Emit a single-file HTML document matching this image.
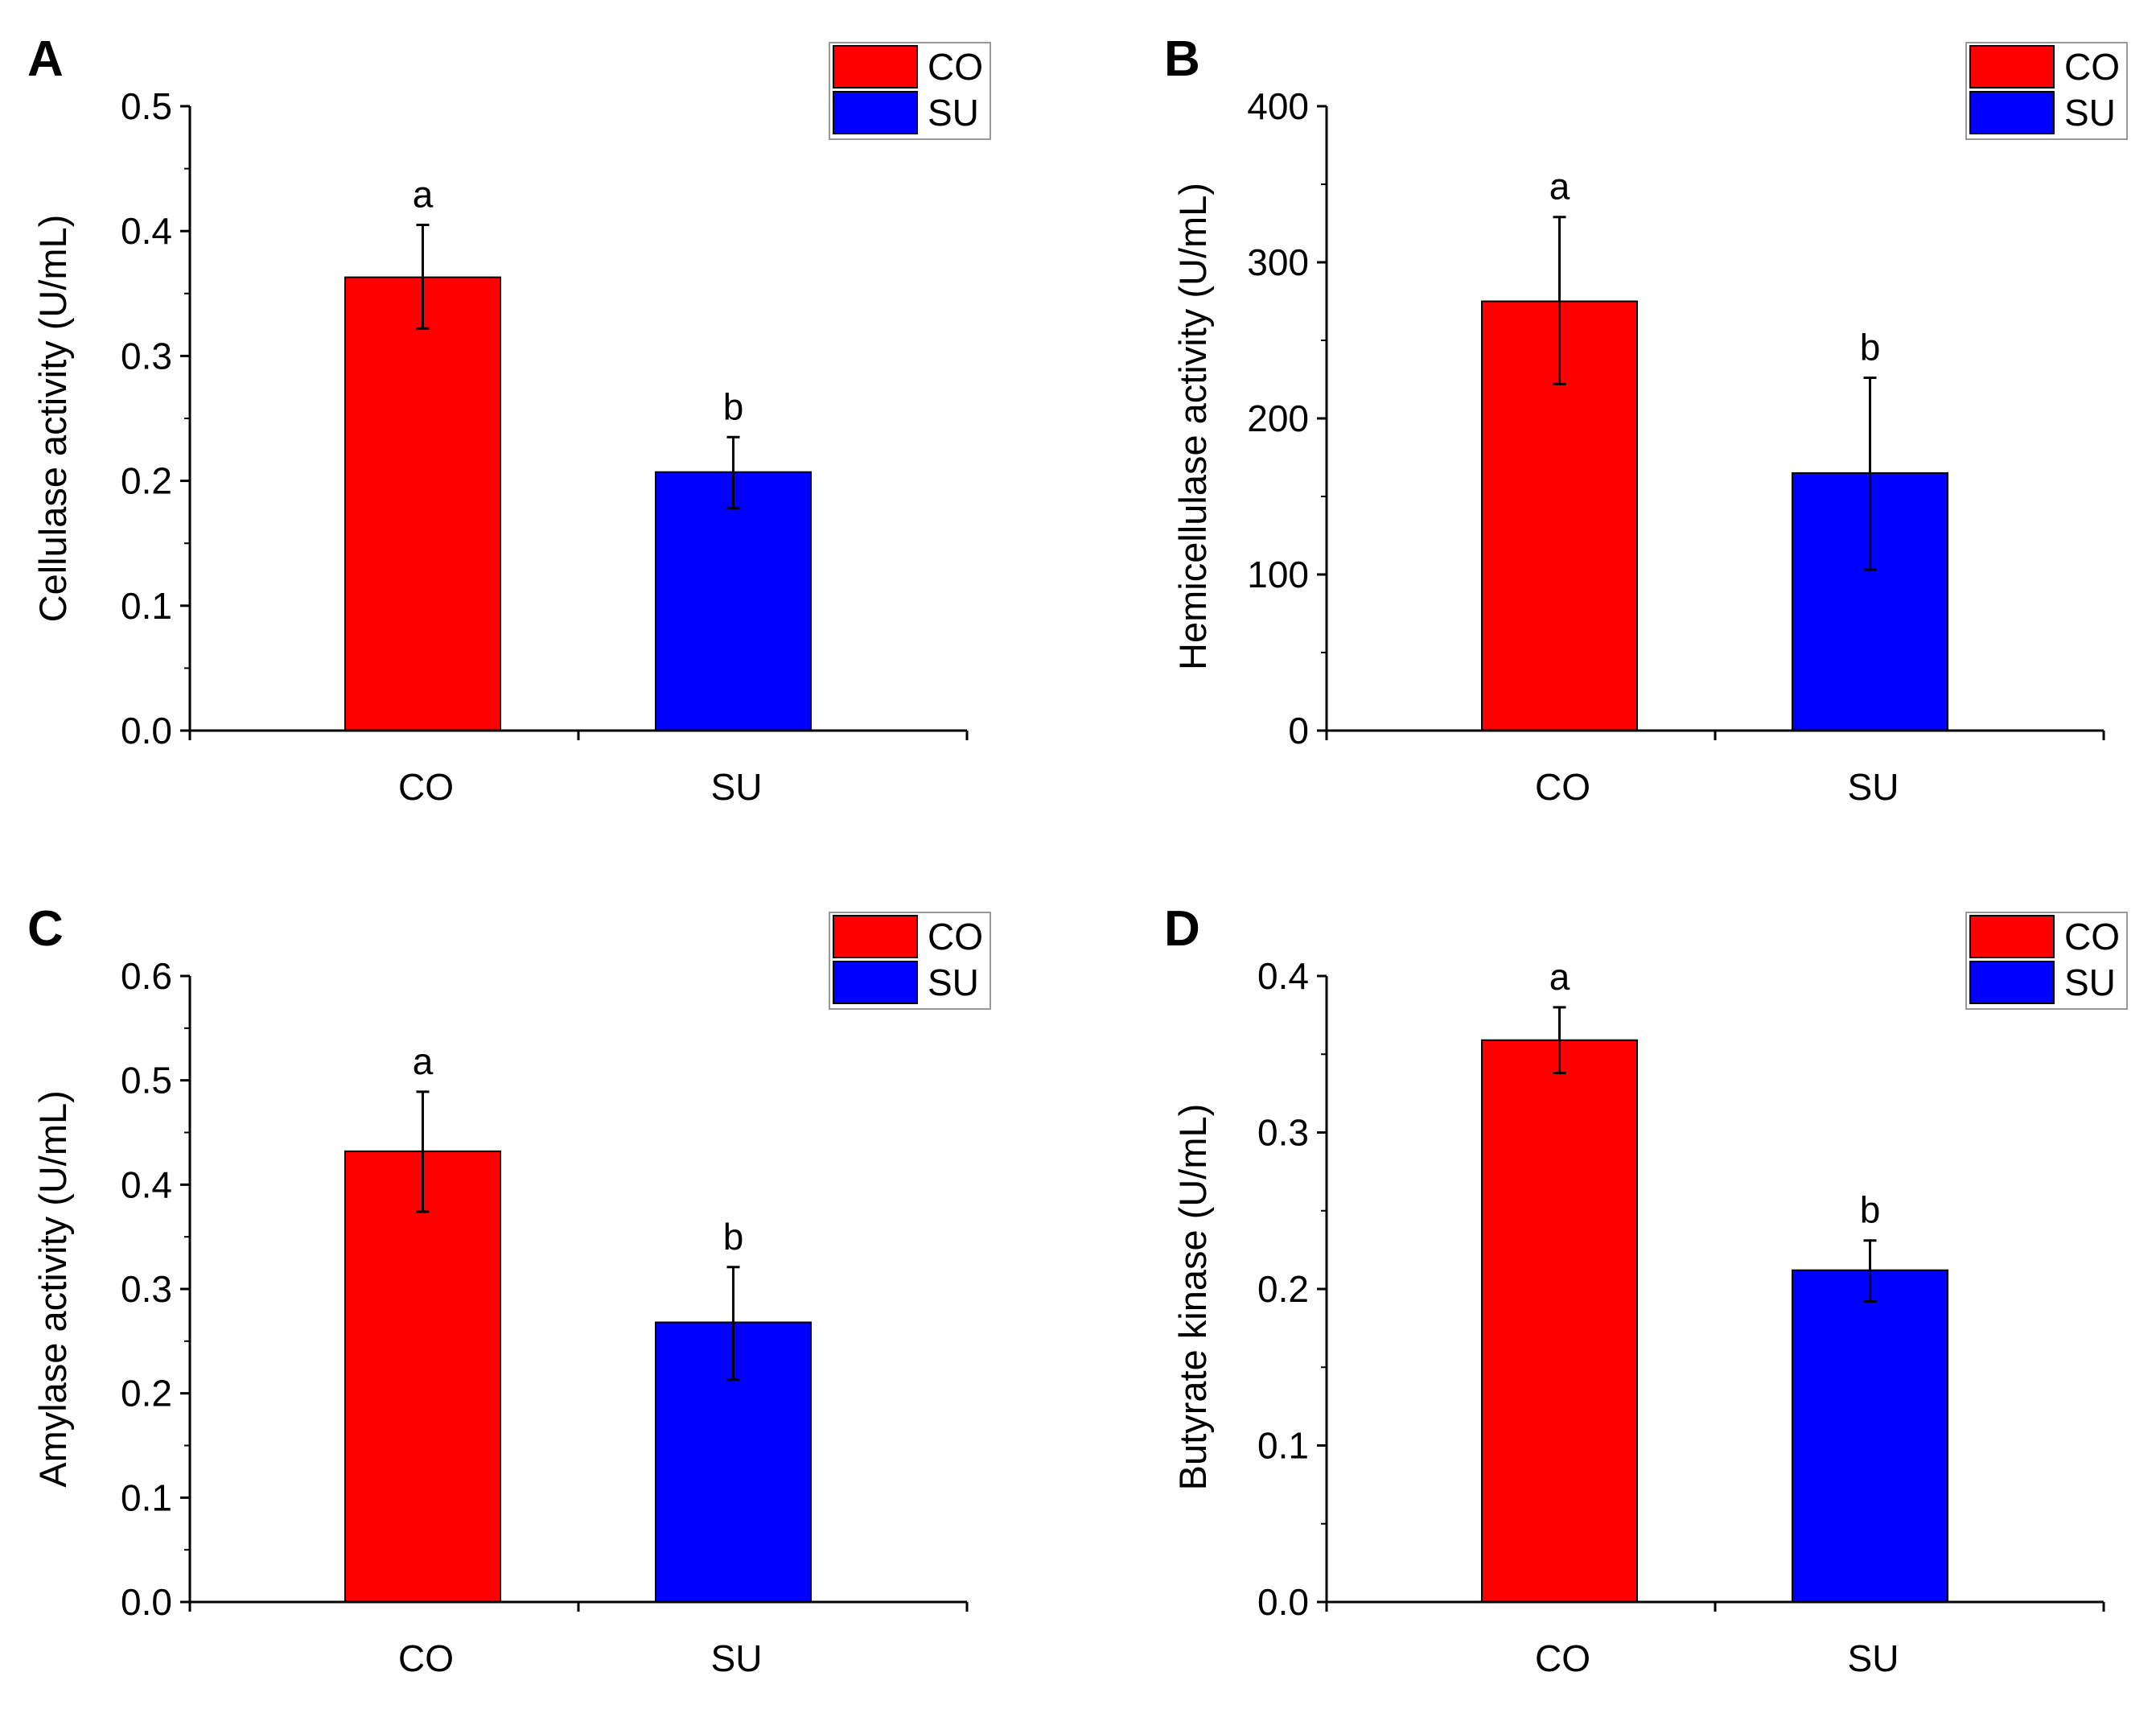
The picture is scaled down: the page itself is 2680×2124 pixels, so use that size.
<!DOCTYPE html>
<html><head><meta charset="utf-8"><style>
html,body{margin:0;padding:0;background:#fff}
svg{display:block}
text{font-family:"Liberation Sans",Arial,sans-serif;fill:#000}
</style></head><body>
<svg id="fig" width="2680" height="2124" viewBox="0 0 2680 2124" xmlns="http://www.w3.org/2000/svg"></svg>
<script>
const categories = ["CO","SU"];
const panelLetters = ["A","B","C","D"];
const yTitles = ["Cellulase activity (U/mL)","Hemicellulase activity (U/mL)","Amylase activity (U/mL)","Butyrate kinase (U/mL)"];
const yMax = [0.5, 400, 0.6, 0.4];
const yStep = [0.1, 100, 0.1, 0.1];
const tickDecimals = [1, 0, 1, 1];
const meansA = [0.363, 0.207];
const errLowA = [0.322, 0.178];
const errHighA = [0.405, 0.235];
const meansB = [275, 165];
const errLowB = [222, 103];
const errHighB = [329, 226];
const meansC = [0.432, 0.268];
const errLowC = [0.374, 0.213];
const errHighC = [0.489, 0.321];
const meansD = [0.359, 0.212];
const errLowD = [0.338, 0.192];
const errHighD = [0.380, 0.231];
const sigLetters = ["a","b"];
const colors = ["#ff0000","#0000ff"];

const means=[meansA,meansB,meansC,meansD];
const lows=[errLowA,errLowB,errLowC,errLowD];
const highs=[errHighA,errHighB,errHighC,errHighD];
const NS="http://www.w3.org/2000/svg";
const svg=document.getElementById('fig');
function mk(tag,attrs,parent,txt){const e=document.createElementNS(NS,tag);for(const k in attrs)e.setAttribute(k,attrs[k]);if(txt!==undefined)e.textContent=txt;(parent||svg).appendChild(e);return e;}
const layouts=[{l:236,t:132,b:908},{l:1649,t:132,b:908},{l:236,t:1213,b:1991},{l:1649,t:1213,b:1991}];
const axisW=966;
for(let p=0;p<4;p++){
  const L=layouts[p];
  const g=mk('g',{});
  
  
  const y=v=>L.b-(v/yMax[p])*(L.b-L.t);
  const lt=mk('text',{x:L.l-202,y:L.t-38,'font-size':62,'font-weight':'bold'},g,panelLetters[p]);
  
  
  for(let i=0;i<2;i++){
    const bw=193;
    const x0=L.l+193+i*386;
    const r=mk('rect',{x:x0,y:y(means[p][i]),width:bw,height:L.b-y(means[p][i]),fill:colors[i],stroke:'#000','stroke-width':2},g);
    
    
    const ex=x0+bw/2;
    const eb=mk('path',{d:`M${ex} ${y(lows[p][i])}V${y(highs[p][i])}M${ex-8} ${y(lows[p][i])}H${ex+8}M${ex-8} ${y(highs[p][i])}H${ex+8}`,stroke:'#000','stroke-width':3,fill:'none'},g);
    
    
    const sl=mk('text',{x:ex,y:y(highs[p][i])-22,'font-size':46,'text-anchor':'middle'},g,sigLetters[i]);
    
    
    const cl=mk('text',{x:ex+4,y:L.b+86,'font-size':46,'text-anchor':'middle'},g,categories[i]);
    
    
  }
  const ax=mk('path',{d:`M${L.l} ${L.t}V${L.b}H${L.l+axisW}M${L.l} ${L.b}v12M${L.l+axisW/2} ${L.b}v12M${L.l+axisW} ${L.b}v12`,stroke:'#000','stroke-width':3,fill:'none'},g);
  
  
  const n=Math.round(yMax[p]/yStep[p]);
  for(let k=0;k<=n;k++){
    const v=k*yStep[p];
    mk('line',{x1:L.l-12,x2:L.l,y1:y(v),y2:y(v),stroke:'#000','stroke-width':3},g);
    if(k<n)mk('line',{x1:L.l-7,x2:L.l,y1:y(v+yStep[p]/2),y2:y(v+yStep[p]/2),stroke:'#000','stroke-width':2},g);
    const tl=mk('text',{x:L.l-22,y:y(v)+16,'font-size':46,'text-anchor':'end'},g,v.toFixed(tickDecimals[p]));
    
    
  }
  const cy=(L.t+L.b)/2+(p%2?10:0);
  const tx=L.l-(p%2?150:154);
  const yt=mk('text',{x:tx,y:cy,'font-size':47,'text-anchor':'middle',transform:`rotate(-90 ${tx} ${cy})`},g,yTitles[p]);
  
  
  const lx=L.l+795, ly=L.t-79;
  const lg=mk('g',{},g);
  
  
  mk('rect',{x:lx,y:ly,width:200,height:120,fill:'#fff',stroke:'#999','stroke-width':2},lg);
  for(let i=0;i<2;i++){
    mk('rect',{x:lx+5,y:ly+4+i*57,width:104,height:52,fill:colors[i],stroke:'#000','stroke-width':2},lg);
    const le=mk('text',{x:lx+122,y:ly+46+i*57,'font-size':46},lg,categories[i]);
    
    
  }
}
</script>
</body></html>
